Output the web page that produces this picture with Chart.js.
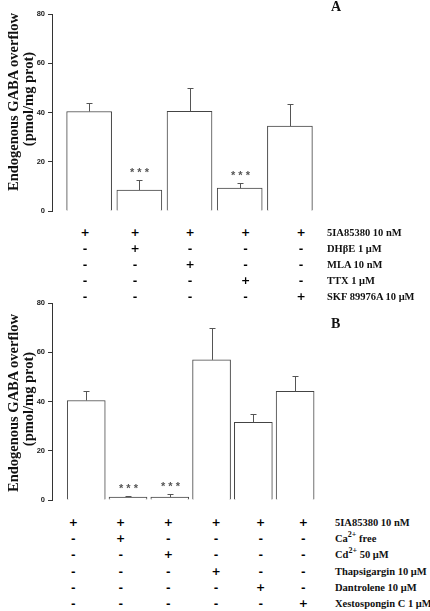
<!DOCTYPE html>
<html>
<head>
<meta charset="utf-8">
<script src="https://cdn.jsdelivr.net/npm/chart.js@4.4.0/dist/chart.umd.min.js"></script>
<style>
  body { margin: 0; background: #fff; width: 430px; height: 611px; position: relative; overflow: hidden; font-family: "Liberation Serif", serif; color: #111; }
  .box { position: absolute; left: 0; width: 430px; height: 225px; }
  .ytitle { position: absolute; font-weight: bold; font-size: 14.5px; white-space: nowrap; transform: translate(-50%, -50%) rotate(-90deg); }
  .pm { position: absolute; font-family: "DejaVu Sans", "Liberation Sans", sans-serif; font-weight: bold; font-size: 11px; color: #000; transform: translate(-50%, -50%); }
  .lab { position: absolute; font-weight: bold; font-size: 10.5px; transform: translateY(-50%); white-space: nowrap; }
  .lab sup { font-size: 8px; line-height: 0; }
  .letter { position: absolute; font-weight: bold; font-size: 14px; }
</style>
</head>
<body>
<div class="box" style="top:0"><canvas id="chartA"></canvas></div>
<div class="box" style="top:290px"><canvas id="chartB"></canvas></div>

<script>
// panel A
const aValues = [40.4, 8.5, 40.5, 9.3, 34.5];
const aErrors = [3.6, 4.1, 9.4, 2.2, 8.9];
const aSig = ['', '***', '', '***', ''];
const aLabels = ['5IA85380 10 nM', 'DHβE 1 μM', 'MLA 10 nM', 'TTX 1 μM', 'SKF 89976A 10 μM'];
const aMatrix = [
  ['+', '+', '+', '+', '+'],
  ['-', '+', '-', '-', '-'],
  ['-', '-', '+', '-', '-'],
  ['-', '-', '-', '+', '-'],
  ['-', '-', '-', '-', '+']
];

// panel B
const bValues = [40.4, 1.2, 1.2, 56.9, 31.5, 44.1];
const bErrors = [3.8, 0.5, 1.2, 13.0, 3.3, 6.3];
const bSig = ['', '***', '***', '', '', ''];
const bLabels = ['5IA85380 10 nM', 'Ca<sup>2+</sup> free', 'Cd<sup>2+</sup> 50 μM', 'Thapsigargin 10 μM', 'Dantrolene 10 μM', 'Xestospongin C 1 μM'];
const bMatrix = [
  ['+', '+', '+', '+', '+', '+'],
  ['-', '+', '-', '-', '-', '-'],
  ['-', '-', '+', '-', '-', '-'],
  ['-', '-', '-', '+', '-', '-'],
  ['-', '-', '-', '-', '+', '-'],
  ['-', '-', '-', '-', '-', '+']
];

const yTicks = [0, 20, 40, 60, 80];

// error bars + significance stars
const errBars = {
  id: 'errBars',
  afterDatasetsDraw(chart, args, opts) {
    const ctx = chart.ctx;
    const xs = chart.scales.x, ys = chart.scales.y;
    ctx.save();
    opts.errors.forEach((e, i) => {
      const v = chart.data.datasets[0].data[i].y;
      const x = Math.round(xs.getPixelForValue(i + 1)) + 0.5;
      const y0 = ys.getPixelForValue(v);
      const y1 = Math.round(ys.getPixelForValue(v + e)) + 0.5;
      ctx.strokeStyle = '#555';
      ctx.lineWidth = 1;
      ctx.beginPath();
      ctx.moveTo(x, y0);
      ctx.lineTo(x, y1);
      ctx.moveTo(x - 3, y1);
      ctx.lineTo(x + 3, y1);
      ctx.stroke();
      if (opts.sig[i]) {
        ctx.fillStyle = '#555';
        ctx.font = 'bold 11px "Liberation Sans", Arial, sans-serif';
        ctx.textAlign = 'center';
        ctx.textBaseline = 'middle';
        ctx.fillText(opts.sig[i].split('').join(' '), x, y1 - 8);
      }
    });
    ctx.restore();
  }
};

function makeChart(id, values, errors, sig, xMin, xMax, barW, pad) {
  return new Chart(document.getElementById(id), {
    type: 'bar',
    data: {
      datasets: [{
        data: values.map((v, i) => ({ x: i + 1, y: v })),
        backgroundColor: '#fff',
        borderColor: '#444',
        borderWidth: 1,
        barThickness: barW
      }]
    },
    options: {
      responsive: true,
      maintainAspectRatio: false,
      animation: false,
      layout: { padding: pad },
      plugins: {
        legend: { display: false },
        tooltip: { enabled: false },
        errBars: { errors: errors, sig: sig }
      },
      scales: {
        x: { type: 'linear', display: false, offset: false, min: xMin, max: xMax, grid: { offset: false } },
        y: {
          min: 0, max: 80,
          afterBuildTicks: s => { s.ticks = yTicks.map(v => ({ value: v })); },
          afterFit: s => { s.width = 52; },
          ticks: { color: '#222', padding: 3, font: { family: '"Liberation Sans", Arial, sans-serif', size: 7.5, weight: 'bold' } },
          grid: { drawOnChartArea: false, drawTicks: true, tickLength: 4, color: '#333' },
          border: { display: true, color: '#333', width: 1 }
        }
      }
    },
    plugins: [errBars]
  });
}

makeChart('chartA', aValues, aErrors, aSig, 0.26, 5.5, 45, { left: 0, top: 14, bottom: 14, right: 115 });
makeChart('chartB', bValues, bErrors, bSig, 0.18, 6.5, 38, { left: 0, top: 13, bottom: 15, right: 114 });

// text parts: titles, letters, treatment tables
function addDiv(cls, html, style) {
  const d = document.createElement('div');
  d.className = cls;
  d.innerHTML = html;
  Object.assign(d.style, style);
  document.body.appendChild(d);
}

addDiv('ytitle', 'Endogenous GABA overflow', { left: '12.5px', top: '102px' });
addDiv('ytitle', '(pmol/mg prot)', { left: '27.5px', top: '99px' });
addDiv('ytitle', 'Endogenous GABA overflow', { left: '12.5px', top: '403px' });
addDiv('ytitle', '(pmol/mg prot)', { left: '27.5px', top: '399px' });
addDiv('letter', 'A', { left: '331px', top: '-1px' });
addDiv('letter', 'B', { left: '331px', top: '316px' });

function table(matrix, labels, colX, rowY, rowStep, labX) {
  matrix.forEach((row, r) => {
    const y = rowY + r * rowStep;
    row.forEach((s, c) => addDiv('pm', s, { left: colX[c] + 'px', top: y + 'px' }));
    addDiv('lab', labels[r], { left: labX + 'px', top: y + 'px' });
  });
}

table(aMatrix, aLabels, [85, 135, 190, 245.5, 301], 231.7, 16.1, 327);
table(bMatrix, bLabels, [73.3, 120.7, 168.3, 216, 260.7, 303.3], 521.7, 16.3, 335);
</script>
</body>
</html>
